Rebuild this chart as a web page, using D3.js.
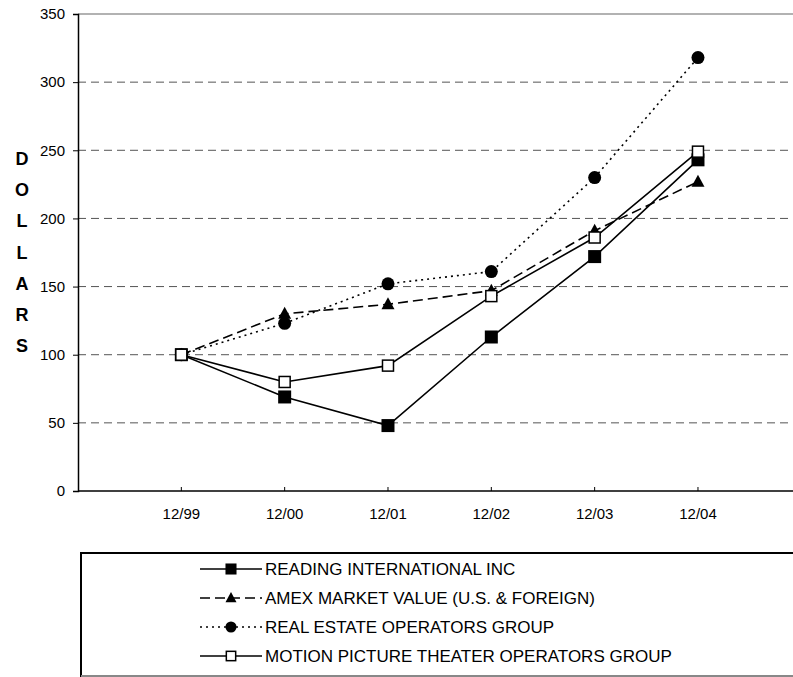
<!DOCTYPE html>
<html><head><meta charset="utf-8">
<script src="https://cdn.jsdelivr.net/npm/d3@7/dist/d3.min.js"></script>
<style>body{margin:0;background:#fff}svg{display:block;font-family:"Liberation Sans",Arial,sans-serif}</style>
</head><body><svg id="c" width="793" height="677"></svg>
<script>
const categories = ["12/99","12/00","12/01","12/02","12/03","12/04"];
const reading = [100, 69, 48, 113, 172, 243];
const amex = [100, 130, 137, 147, 191, 227];
const realEstate = [100, 123, 152, 161, 230, 318];
const motionPicture = [100, 80, 92, 143, 186, 249];
const yTicks = [0, 50, 100, 150, 200, 250, 300, 350];
const seriesNames = ["READING INTERNATIONAL INC","AMEX MARKET VALUE (U.S. & FOREIGN)","REAL ESTATE OPERATORS GROUP","MOTION PICTURE THEATER OPERATORS GROUP"];

const series = [
  {name: seriesNames[0], values: reading, dash: null, marker: "fsquare"},
  {name: seriesNames[1], values: amex, dash: "10,5", marker: "triangle"},
  {name: seriesNames[2], values: realEstate, dash: "2,4", marker: "circle"},
  {name: seriesNames[3], values: motionPicture, dash: null, marker: "hsquare"}
];

const svg = d3.select("#c");
const L = 78, T = 14, B = 491, step = 103.33;
const x = d3.scaleLinear().domain([-1, categories.length]).range([L, L + step * (categories.length + 1)]);
const y = d3.scaleLinear().domain([0, 350]).range([B, T]);

// gridlines
svg.append("g").selectAll("line").data(yTicks.filter(v => v > 0 && v < 350)).join("line")
  .attr("x1", L).attr("x2", 793).attr("y1", d => y(d)).attr("y2", d => y(d))
  .attr("stroke", "#555").attr("stroke-width", 1).attr("stroke-dasharray", "8,5");
svg.append("line").attr("x1", L).attr("x2", 793).attr("y1", y(350)).attr("y2", y(350))
  .attr("stroke", "#999").attr("stroke-width", 1.5);

// y axis
const yAxis = d3.axisLeft(y).tickValues(yTicks).tickSize(5).tickPadding(8);
const gy = svg.append("g").attr("transform", `translate(${L},0)`).call(yAxis);
gy.select(".domain").attr("stroke", "#000").attr("stroke-width", 1.5);
gy.selectAll(".tick line").attr("stroke", "#000");
gy.selectAll("text").attr("font-size", 15).attr("fill", "#000").attr("font-family", "Liberation Sans, Arial, sans-serif");

// x axis
const gx = svg.append("g").attr("transform", `translate(0,${B})`);
gx.append("line").attr("x1", L).attr("x2", 793).attr("y1", 0).attr("y2", 0).attr("stroke", "#000").attr("stroke-width", 1.5);
gx.selectAll("line.t").data(categories).join("line").attr("class", "t")
  .attr("x1", (d, i) => x(i)).attr("x2", (d, i) => x(i)).attr("y1", 0).attr("y2", -4).attr("stroke", "#000");
gx.selectAll("text").data(categories).join("text")
  .attr("x", (d, i) => x(i)).attr("y", 28).attr("text-anchor", "middle")
  .attr("font-size", 15).text(d => d);

// y title stacked letters
const letters = "DOLLARS".split("");
svg.append("g").selectAll("text").data(letters).join("text")
  .attr("x", 22).attr("y", (d, i) => 165 + i * 31.2).attr("text-anchor", "middle")
  .attr("font-size", 18).attr("font-weight", "bold").text(d => d);

function drawMarker(g, type, cx, cy, scale) {
  const s = scale || 1;
  if (type === "fsquare") {
    g.append("rect").attr("x", cx - 6.5*s).attr("y", cy - 6.5*s).attr("width", 13*s).attr("height", 13*s).attr("fill", "#000");
  } else if (type === "hsquare") {
    g.append("rect").attr("x", cx - 5.5*s).attr("y", cy - 5.5*s).attr("width", 11*s).attr("height", 11*s)
      .attr("fill", "#fff").attr("stroke", "#000").attr("stroke-width", 1.5);
  } else if (type === "circle") {
    g.append("circle").attr("cx", cx).attr("cy", cy).attr("r", 6.5*s).attr("fill", "#000");
  } else if (type === "triangle") {
    g.append("path").attr("d", `M${cx},${cy-7*s}L${cx+6.5*s},${cy+5*s}L${cx-6.5*s},${cy+5*s}Z`).attr("fill", "#000");
  }
}

const line = d3.line().x((d, i) => x(i)).y(d => y(d));
series.forEach(s => {
  const g = svg.append("g");
  g.append("path").attr("d", line(s.values)).attr("fill", "none").attr("stroke", "#000")
    .attr("stroke-width", 1.6).attr("stroke-dasharray", s.dash);
  s.values.forEach((v, i) => drawMarker(g, s.marker, x(i), y(v)));
});

// legend
const lg = svg.append("g");
lg.append("rect").attr("x", 81).attr("y", 553).attr("width", 800).attr("height", 123)
  .attr("fill", "none").attr("stroke", "#000").attr("stroke-width", 2);
lg.append("line").attr("x1", 81).attr("x2", 793).attr("y1", 676).attr("y2", 676).attr("stroke", "#888").attr("stroke-width", 2);
const rowY = [569, 598, 627, 656];
series.forEach((s, i) => {
  const g = lg.append("g");
  g.append("line").attr("x1", 200).attr("x2", 262).attr("y1", rowY[i]).attr("y2", rowY[i])
    .attr("stroke", "#000").attr("stroke-width", 1.6).attr("stroke-dasharray", s.dash);
  drawMarker(g, s.marker, 231, rowY[i], 0.85);
  g.append("text").attr("x", 265).attr("y", rowY[i] + 6).attr("font-size", 17).text(s.name);
});
</script></body></html>
